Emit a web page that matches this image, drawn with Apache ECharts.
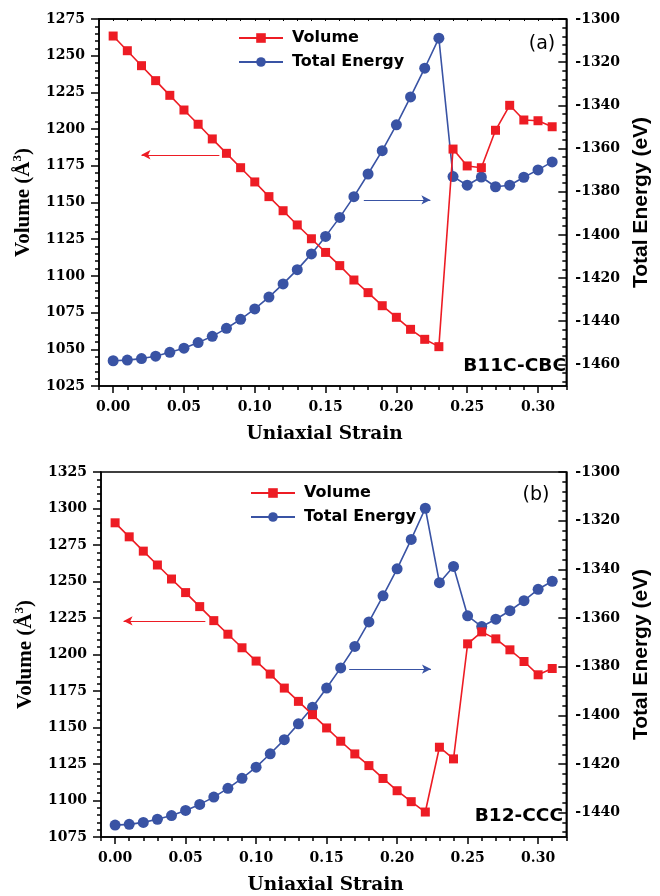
<!DOCTYPE html>
<html>
<head>
<meta charset="utf-8">
<script src="https://cdn.jsdelivr.net/npm/echarts@6/dist/echarts.min.js"></script>
<style>
  html, body { margin: 0; padding: 0; background: #fff; }
  #chart { width: 660px; height: 896px; }
</style>
</head>
<body>
<div id="chart"></div>
<script>
// uniaxial strain values (x)
const strain = [0.00, 0.01, 0.02, 0.03, 0.04, 0.05, 0.06, 0.07, 0.08, 0.09, 0.10, 0.11, 0.12, 0.13, 0.14, 0.15,
  0.16, 0.17, 0.18, 0.19, 0.20, 0.21, 0.22, 0.23, 0.24, 0.25, 0.26, 0.27, 0.28, 0.29, 0.30, 0.31]

// (a) B11C-CBC
const volumeA = [1263.4, 1253.4, 1243.2, 1233.0, 1223.0, 1213.0, 1203.3, 1193.3, 1183.5, 1173.7, 1164.0, 1154.0,
  1144.4, 1134.7, 1125.3, 1116.0, 1107.0, 1097.2, 1088.6, 1079.7, 1071.8, 1063.6, 1056.8, 1051.8,
  1186.4, 1174.9, 1173.7, 1199.2, 1216.2, 1206.2, 1205.7, 1201.6]
const energyA = [-1458.3, -1458.0, -1457.3, -1456.2, -1454.4, -1452.5, -1449.9, -1447.0, -1443.3, -1439.1, -1434.3,
  -1428.8, -1422.7, -1416.1, -1408.8, -1400.7, -1391.9, -1382.3, -1371.8, -1361.0, -1349.0, -1336.1, -1322.8,
  -1308.9, -1373.0, -1377.0, -1373.2, -1377.7, -1377.0, -1373.3, -1369.9, -1366.2]

// (b) B12-CCC
const volumeB = [1290.2, 1280.6, 1270.8, 1261.3, 1251.7, 1242.4, 1232.8, 1223.2, 1213.9, 1204.6, 1195.5, 1186.6,
  1177.0, 1167.9, 1158.8, 1149.7, 1140.6, 1131.9, 1123.9, 1115.1, 1106.7, 1099.2, 1092.1, 1136.5, 1128.5,
  1207.3, 1215.5, 1210.7, 1203.2, 1195.2, 1186.1, 1190.4]
const energyB = [-1445.1, -1444.8, -1444.0, -1442.7, -1441.2, -1439.1, -1436.6, -1433.6, -1430.0, -1425.9, -1421.3,
  -1415.8, -1410.0, -1403.5, -1396.7, -1388.8, -1380.5, -1371.7, -1361.6, -1350.9, -1339.8, -1327.7, -1314.9,
  -1345.5, -1338.8, -1359.1, -1363.5, -1360.5, -1357.0, -1352.9, -1348.2, -1344.9]

// arrows pointing to the axis each curve belongs to: [from, to]
const arrowVolA = [[0.075, 1182.5], [0.020, 1182.5]]
const arrowEnA = [[0.177, -1383.8], [0.224, -1383.8]]
const arrowVolB = [[0.064, 1223], [0.006, 1223]]
const arrowEnB = [[0.166, -1381], [0.224, -1381]]

// tick labels
const strainTicks = [0.00, 0.05, 0.10, 0.15, 0.20, 0.25, 0.30]
const energyTicksA = [-1460, -1440, -1420, -1400, -1380, -1360, -1340, -1320, -1300]
const energyTicksB = [-1440, -1420, -1400, -1380, -1360, -1340, -1320, -1300]

const RED = '#ED1C24'
const BLUE = '#3953A4'
const serif = 'DejaVu Serif'
const sans = 'DejaVu Sans'

function minorTicks(major, min, max, step) {
  const out = []
  for (let v = major[major.length - 1]; v >= min - 1e-9; v -= step) {
    if (v <= max && !major.includes(v)) out.push(v)
  }
  return out
}

const pairs = (xs, ys) => xs.map((x, i) => [x, ys[i]])

const chart = echarts.init(document.getElementById('chart'), null, { renderer: 'canvas' })

const tickLabel = { fontFamily: serif, fontWeight: 'bold', fontSize: 14, color: '#000' }
const blackLine = { lineStyle: { color: '#000', width: 1.5 } }

function xAxes(grid, withTop) {
  const list = [
    {
      type: 'value', gridIndex: grid, position: 'bottom', min: -0.01, max: 0.32,
      name: 'Uniaxial Strain', nameLocation: 'middle', nameGap: 39,
      nameTextStyle: { fontFamily: serif, fontWeight: 'bold', fontSize: 18.5, color: '#000', padding: [0, 16, 0, 0] },
      axisLine: { onZero: false, ...blackLine },
      axisTick: { customValues: strainTicks, length: 7, ...blackLine },
      axisLabel: { customValues: strainTicks, margin: 14, formatter: v => v.toFixed(2), ...tickLabel },
      splitLine: { show: false }
    },
    {
      type: 'value', gridIndex: grid, position: 'bottom', min: -0.01, max: 0.32, interval: 0.01,
      axisLine: { show: false, onZero: false },
      axisTick: { length: 4, ...blackLine },
      axisLabel: { show: false },
      splitLine: { show: false }
    }
  ]
  if (withTop) {
    list.push({
      type: 'value', gridIndex: grid, position: 'top', min: -0.01, max: 0.32, interval: 0.01,
      axisLine: { onZero: false, ...blackLine },
      axisTick: { inside: true, length: 2, lineStyle: { color: '#000', width: 1 } },
      axisLabel: { show: false },
      splitLine: { show: false }
    })
  }
  return list
}

function yAxes(grid, vMin, vMax, eMin, eMax, eTicks) {
  return [
    {
      type: 'value', gridIndex: grid, position: 'left', min: vMin, max: vMax, interval: 25,
      name: 'Volume (Å{sup|3})', nameLocation: 'middle', nameGap: 62,
      nameTextStyle: {
        fontFamily: 'Liberation Serif', fontWeight: 'bold', fontSize: 21, color: '#000', lineHeight: 24,
        rich: { sup: { fontFamily: 'Liberation Serif', fontWeight: 'bold', fontSize: 13, verticalAlign: 'top', lineHeight: 24 } }
      },
      axisLine: { onZero: false, ...blackLine },
      axisTick: { length: 8, ...blackLine },
      minorTick: { show: true, splitNumber: 5, length: 4, ...blackLine },
      axisLabel: { margin: 14, formatter: v => String(v), ...tickLabel },
      splitLine: { show: false }
    },
    {
      type: 'value', gridIndex: grid, position: 'right', min: eMin, max: eMax,
      name: 'Total Energy (eV)', nameLocation: 'middle', nameGap: 62, nameRotate: 90,
      nameTextStyle: { fontFamily: 'Liberation Sans', fontWeight: 'bold', fontSize: 21, color: '#000' },
      axisLine: { onZero: false, ...blackLine },
      axisTick: { customValues: eTicks, inside: true, length: 8, ...blackLine },
      axisLabel: { customValues: eTicks, margin: 9, formatter: v => String(v), ...tickLabel },
      splitLine: { show: false }
    },
    {
      type: 'value', gridIndex: grid, position: 'right', min: eMin, max: eMax,
      axisLine: { show: false, onZero: false },
      axisTick: { customValues: minorTicks(eTicks, eMin, eMax, 4), inside: true, length: 4, ...blackLine },
      axisLabel: { show: false },
      splitLine: { show: false }
    }
  ]
}

function arrow(points, color) {
  return {
    silent: true,
    symbol: ['none', 'arrow'],
    symbolSize: [7, 9],
    label: { show: false },
    lineStyle: { color: color, width: 1, type: 'solid' },
    data: [[{ coord: points[0] }, { coord: points[1] }]]
  }
}

function series(xIdx, yVol, yEn, vol, en, arrVol, arrEn) {
  return [
    {
      name: 'Volume', type: 'line', xAxisIndex: xIdx, yAxisIndex: yVol,
      data: pairs(strain, vol),
      symbol: 'rect', symbolSize: 9,
      itemStyle: { color: RED }, lineStyle: { color: RED, width: 1.6 },
      markLine: arrow(arrVol, RED),
      z: 3
    },
    {
      name: 'Total Energy', type: 'line', xAxisIndex: xIdx, yAxisIndex: yEn,
      data: pairs(strain, en),
      symbol: 'circle', symbolSize: 11,
      itemStyle: { color: BLUE }, lineStyle: { color: BLUE, width: 1.6 },
      markLine: arrow(arrEn, BLUE),
      z: 2
    }
  ]
}

function legend(left, top) {
  return {
    orient: 'vertical', left: left, top: top, padding: 0,
    itemWidth: 44, itemHeight: 12, itemGap: 8,
    textStyle: { fontFamily: sans, fontWeight: 'bold', fontSize: 16, color: '#000', padding: [0, 0, 0, 4] },
    data: ['Volume', 'Total Energy']
  }
}

function label(text, x, y, font, align) {
  return {
    type: 'text', x: x, y: y, silent: true,
    style: { text: text, font: font, fill: '#000', textAlign: align, textVerticalAlign: 'middle' }
  }
}

const option = {
  animation: false,
  backgroundColor: '#fff',
  grid: [
    { left: 99, right: 82, top: 19, height: 367, show: true, borderColor: '#000', borderWidth: 1.5, backgroundColor: 'transparent' },
    { left: 101, right: 83, top: 472, height: 366, show: true, borderColor: '#000', borderWidth: 1.5, backgroundColor: 'transparent' }
  ],
  xAxis: [...xAxes(0, true), ...xAxes(1, false)],
  yAxis: [
    ...yAxes(0, 1025, 1275, -1470, -1300, energyTicksA),
    ...yAxes(1, 1075, 1325, -1450, -1300, energyTicksB)
  ],
  legend: [legend(238, 30), legend(250, 485)],
  series: [
    ...series(0, 0, 1, volumeA, energyA, arrowVolA, arrowEnA),
    ...series(3, 3, 4, volumeB, energyB, arrowVolB, arrowEnB)
  ],
  graphic: [
    label('(a)', 542, 44, `19px "${sans}"`, 'center'),
    label('B11C-CBC', 566, 366, `bold 18.5px "${sans}"`, 'right'),
    label('(b)', 536, 495, `19px "${sans}"`, 'center'),
    label('B12-CCC', 563, 816, `bold 18.5px "${sans}"`, 'right')
  ]
}

chart.setOption(option)
</script>
</body>
</html>
